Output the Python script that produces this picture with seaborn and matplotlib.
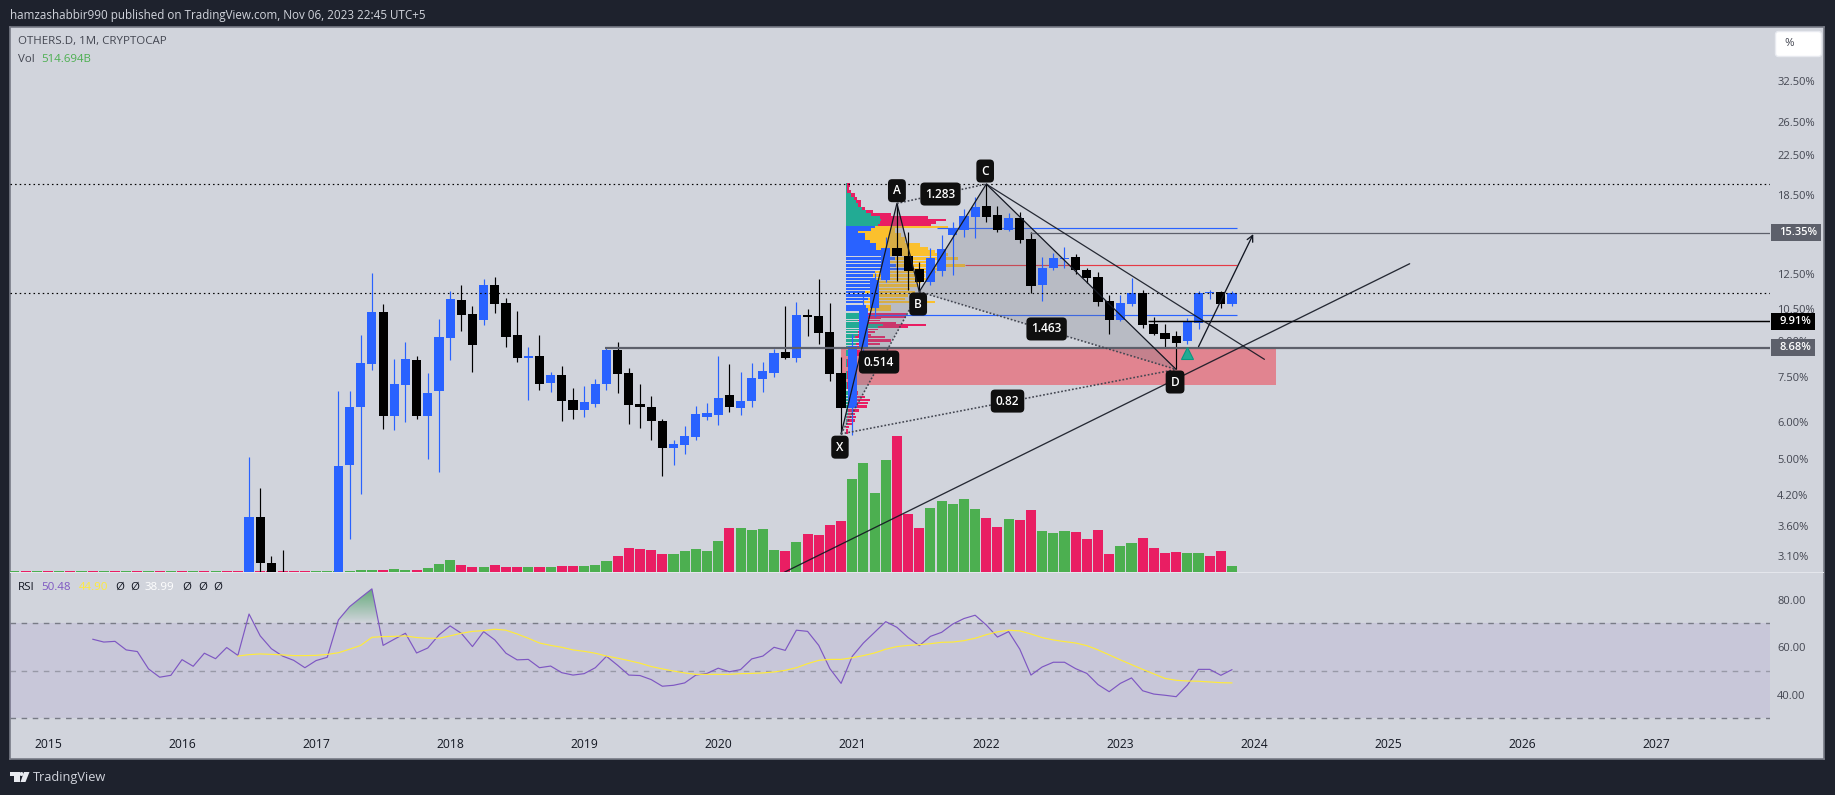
import numpy as np
import pandas as pd
import matplotlib
matplotlib.use("Agg")
import matplotlib.pyplot as plt
import seaborn as sns
from matplotlib.patches import Circle, FancyBboxPatch, Polygon, Rectangle
from matplotlib.transforms import IdentityTransform
from matplotlib.ticker import NullLocator

W, H = 1835, 795

# months counted from Jan 2015
months = [18, 19, 20, 21] + list(range(26, 107))
opens = [2.58,3.76,3.00,2.58,2.53,4.86,6.48,8.01,10.36,6.19,7.22,8.17,6.19,7.01,9.11,11.00,10.26,9.96,11.84,10.83,9.25,8.25,8.34,7.29,7.59,6.70,6.38,6.57,7.26,8.59,7.66,6.57,6.48,6.04,5.29,5.37,5.58,6.16,6.23,6.87,6.44,6.67,7.44,7.66,8.50,8.25,10.21,10.16,9.39,7.65,6.43,8.70,10.55,12.14,14.25,13.67,12.82,12.02,12.69,15.17,15.55,16.58,17.51,16.75,15.55,16.50,14.87,11.84,12.88,13.47,13.58,12.76,12.32,10.94,9.96,10.78,11.38,9.77,9.34,9.20,8.98,9.81,11.38,11.44,10.78]
highs = [5.05,4.33,3.10,3.19,7.00,7.00,9.23,12.57,10.78,8.21,8.93,8.34,7.66,10.01,11.50,11.84,10.68,12.20,12.32,11.11,10.41,8.72,9.25,7.70,7.93,7.11,7.19,7.44,8.67,8.93,7.86,7.26,6.84,6.10,5.50,5.90,6.51,6.61,8.34,8.01,7.70,8.05,8.09,8.63,10.68,10.89,10.52,12.20,10.83,8.31,9.28,11.37,12.55,15.04,17.74,15.42,13.29,14.20,15.17,16.15,17.22,18.28,19.52,17.51,16.89,17.00,15.42,13.58,13.85,14.27,13.81,12.88,12.61,11.27,11.27,12.26,11.55,10.09,9.77,9.43,10.06,11.50,11.55,11.50,11.50]
lows = [2.41,2.49,2.45,2.45,2.41,3.37,4.21,7.78,5.81,5.78,6.01,6.10,5.01,4.70,8.17,9.43,7.70,9.72,10.31,8.72,8.09,6.70,7.04,6.98,6.04,6.10,6.16,6.48,7.04,6.94,5.95,5.84,5.50,4.60,4.86,5.13,5.50,6.07,5.92,6.32,6.23,6.48,6.98,7.51,8.21,8.09,9.20,8.85,7.37,5.67,5.64,8.17,10.13,12.04,12.10,11.55,11.46,11.84,12.40,12.45,15.04,14.97,16.18,15.42,15.47,14.58,11.37,10.94,12.76,12.86,12.51,11.94,10.68,9.29,9.91,10.68,9.59,9.26,8.70,7.80,8.85,9.53,11.05,10.57,10.68]
closes = [3.76,3.00,2.53,2.53,4.84,6.48,8.05,10.36,6.19,7.26,8.21,6.19,6.94,9.16,11.05,10.21,8.80,11.84,10.78,9.16,8.25,8.34,7.26,7.59,6.67,6.38,6.64,7.26,8.59,7.63,6.54,6.48,6.04,5.29,5.39,5.61,6.26,6.29,6.77,6.48,6.67,7.48,7.74,8.46,8.25,10.21,10.11,9.34,7.63,6.43,8.76,10.55,12.14,14.25,13.67,12.69,12.04,13.56,14.15,15.63,16.66,17.42,16.58,15.55,16.50,14.80,11.79,12.88,13.54,13.54,12.76,12.26,10.89,9.96,10.83,11.37,9.72,9.29,9.07,8.89,9.90,11.37,11.44,10.78,11.37]

# volume in billions, months -3 to 106
volumes = [86]*31 + [172,172,172,257,172,172,343,686,1030,601,429,429,601,429,429,429,429,429,515,515,515,601,944,1373,2059,1973,1888,1544,1544,1802,1973,1802,2660,3775,3775,3604,3689,1888,1802,2574,3260,3175,4033,4376,7979,9352,6778,9610,11669,4976,3775,5491,6092,5834,6263,5405,4633,3861,4547,4462,5320,3518,3346,3518,3432,2831,3604,1544,2231,2488,2917,2059,1630,1716,1630,1630,1373,1802,514.694]
volume_side = list("gr" * 10) + list("rgrr" "rrrggggggr" "ggrgggrrgr" "rrgrgrrggg" "rrrrrggggg" "rggggrgrrr" "rggggrrrgg" "gggrrgrrgg" "grrrrggrrr" "rggrrg")

rsi_values = [63.3,62.1,62.4,58.8,58.1,50.8,47.3,48.1,54.7,51.9,57.4,55.1,59.8,56.5,73.9,64.7,59.3,56.2,54.4,51.3,54.3,55.7,71.4,77.0,80.8,84.5,60.7,63.3,65.8,57.5,59.6,65.1,68.9,65.8,60.2,66.5,63.0,57.4,54.6,54.8,51.3,52.0,49.2,48.2,48.8,51.3,56.1,52.3,48.2,48.0,46.3,43.5,43.9,44.9,48.2,48.9,51.1,49.6,50.5,55.0,56.2,59.9,58.6,67.1,66.6,60.7,50.9,44.7,56.1,61.7,66.2,70.7,68.3,64.0,60.6,64.5,66.2,69.7,72.0,73.4,69.3,64.2,66.5,59.1,48.2,51.6,53.6,53.6,50.9,48.9,44.2,41.2,44.7,47.0,41.6,40.2,39.7,39.1,44.0,50.6,50.6,48.1,50.48]
rsi_ma = [56.2,56.8,57.1,56.9,56.7,56.4,56.4,56.5,56.9,57.6,59.1,60.7,64.1,64.4,64.5,64.7,64.0,63.7,63.7,64.7,65.8,66.6,66.9,67.5,67.1,65.5,63.7,61.7,60.7,59.9,58.8,58.2,57.4,56.2,55.3,54.3,53.2,51.8,50.8,49.9,49.1,48.5,48.5,48.5,48.5,48.8,48.9,49.1,49.5,50.2,51.3,53.0,54.4,54.8,54.8,55.5,56.4,57.5,59.1,60.2,60.7,61.0,61.4,62.0,62.1,62.7,63.7,65.2,66.4,67.1,66.8,65.5,64.0,63.0,62.3,61.7,60.6,58.8,56.7,54.6,52.6,50.6,48.7,46.8,46.0,45.7,45.6,45.3,45.0,44.9]

# volume profile rows, volumes in arbitrary units
profile_price = [19.46,19.11,18.80,18.49,18.19,17.89,17.60,17.31,17.03,16.75,16.55,16.34,16.12,15.94,15.76,15.60,15.42,15.17,14.92,14.68,14.44,14.20,13.97,13.74,13.58,13.29,13.08,12.86,12.65,12.45,12.24,12.04,11.84,11.65,11.46,11.27,11.09,10.91,10.73,10.13,10.04,9.96,9.85,9.72,9.64,9.53,9.40,9.28,9.17,9.02,8.87,8.73,8.59,8.11,7.65,7.22,6.93,6.82,6.70,6.63,6.54,6.38,6.28,6.17,6.07,5.97,5.88,5.78,5.69]
profile_up = [1,1,1,5,8,10,12,16,20,25,34,35,34,32,29,25,12,19,19,24,30,30,35,35,49,42,50,59,29,27,29,32,25,25,19,24,22,17,20,22,15,12,22,37,32,15,12,12,9,13,10,10,2,1,1,1,2,5,2,2,2,2,2,1,1,1,0,0,0]
profile_down = [3,2,4,4,3,5,3,3,7,20,48,65,56,53,73,24,37,36,40,35,44,52,54,67,63,47,69,36,61,52,53,43,47,39,50,38,37,72,25,38,20,22,28,43,30,17,17,13,30,32,24,12,12,4,4,4,10,14,22,20,19,11,7,9,8,5,3,2,2]

# harmonic pattern X A B C D
pattern_x = [71, 76, 78, 84, 101]
pattern_y = [5.67, 17.74, 11.46, 19.52, 7.80]

year_labels = [str(y) for y in range(2015, 2028)]
price_ticks = [32.5, 26.5, 22.5, 18.5, 12.5, 10.5, 9.0, 7.5, 6.0, 5.0, 4.2, 3.6, 3.1]
rsi_ticks = [80, 60, 40]

BG = "#1e222d"
PANE = "#d1d4dc"
BLUE = "#2962ff"
INK = "#131722"
GREY = "#5d606b"

sns.set_style("white")
plt.rcParams["font.family"] = ["Open Sans", "DejaVu Sans"]

fig = plt.figure(figsize=(W / 100, H / 100), dpi=100, facecolor=BG)


def rect(x0, y0, x1, y1):
    return [x0 / W, 1 - y1 / H, (x1 - x0) / W, (y1 - y0) / H]


def label(x, y, s, **kw):
    kw.setdefault("fontsize", 8.25)
    kw.setdefault("color", "#434651")
    fig.text(x / W, 1 - y / H, s, va="center", ha="left", **kw)


frame = fig.add_axes(rect(10, 27, 1824, 759), zorder=-1, facecolor=PANE)
frame.set(xticks=[], yticks=[])
for s in frame.spines.values():
    s.set_color("#787b86")
    s.set_linewidth(1.2)

# volume sits under the candles
vol_ax = fig.add_axes(rect(10, 27, 1770, 572), facecolor="none")
vol = pd.DataFrame({"month": range(107 - len(volumes), 107), "volume": volumes, "side": volume_side})
sns.barplot(data=vol, x="month", y="volume", hue="side", palette={"g": "#4caf50", "r": "#e91e63"},
            native_scale=True, dodge=False, width=0.9, saturation=1, linewidth=0, legend=False, ax=vol_ax)
vol_ax.set(xlabel="", ylabel="", xticks=[], yticks=[], ylim=(0, 46761))
sns.despine(ax=vol_ax, left=True, bottom=True)

ax = vol_ax.twinx()
ax.set_yscale("log")
ax.set_ylim(2.863, 42.46)
ax.set_xlim(-3.40, 154.16)
ax.set_yticks(price_ticks, [f"{v:.2f}%" for v in price_ticks])
ax.yaxis.set_minor_locator(NullLocator())
ax.tick_params(axis="y", length=0, pad=5.2, labelsize=8.0, labelcolor="#434651")
sns.despine(ax=ax, left=True, bottom=True, right=True)

# zone and volume profile
ax.add_patch(Rectangle((71.0, 7.22), 38.9, 8.68 - 7.22, color="#f23645", alpha=0.5, lw=0, zorder=1))

price = np.array(profile_price)
edges = np.sqrt(price[:-1] * price[1:])
row_top = np.r_[price[0] * 1.006, edges]
row_low = np.r_[edges, price[-1] * 0.994]
row_hgt = (row_top - row_low) * np.where(price < 13.7, 0.72, 1.0)
up = np.array(profile_up) / 11.17
down = np.array(profile_down) / 11.17
in_value_area = (price < 15.8) & (price > 10.2)
anchor = 71.44
ax.barh(row_low, up, height=row_hgt, left=anchor, align="edge", zorder=2, lw=0,
        color=np.where(in_value_area, BLUE, "#22ab94"))
ax.barh(row_low, down, height=row_hgt, left=anchor + up, align="edge", zorder=2, lw=0,
        color=np.where(in_value_area, "#fbc02d", "#e91e63"))

# harmonic pattern triangles
ax.fill(pattern_x[:3], pattern_y[:3], color="#787b86", alpha=0.27, lw=0, zorder=3)
ax.fill(pattern_x[2:], pattern_y[2:], color="#787b86", alpha=0.27, lw=0, zorder=3)

# candles
candle_colors = [BLUE if c >= o else "black" for o, c in zip(opens, closes)]
ax.vlines(months, lows, highs, colors=candle_colors, linewidth=0.85, zorder=4)
ax.bar(months, np.abs(np.array(closes) - np.array(opens)), bottom=np.minimum(opens, closes),
       width=0.82, color=candle_colors, lw=0, zorder=5)

dots = (0, (1.3, 2.6))
ax.hlines([19.52, 11.37], -3.4, 154.2, colors="black", linewidth=0.85, linestyles=[dots], zorder=6)
ax.hlines(15.35, 87.9, 154.2, colors=GREY, linewidth=0.9, zorder=6)
ax.hlines(9.91, 98.5, 154.2, colors="black", linewidth=1.05, zorder=6)
ax.hlines(8.68, 49.9, 154.2, colors=GREY, linewidth=1.6, zorder=6)
ax.hlines(15.73, 79.6, 106.4, colors=BLUE, linewidth=0.85, zorder=2.5)
ax.hlines(10.20, 72.7, 106.4, colors=BLUE, linewidth=0.85, zorder=2.5)
ax.hlines(13.06, 82.1, 106.4, colors="#e53945", linewidth=0.85, zorder=2.5)

ax.plot(pattern_x, pattern_y, color=INK, lw=0.9, zorder=6)
for a, b in ((0, 2), (1, 3), (2, 4), (0, 4)):
    ax.plot([pattern_x[a], pattern_x[b]], [pattern_y[a], pattern_y[b]], color="#434651", lw=1.15,
            linestyle=(0, (1.1, 1.2)), zorder=6)

ax.plot([65.93, 121.9], [2.86, 13.16], color=INK, lw=0.95, alpha=0.9, zorder=6)
ax.plot([84, 108.9], [19.52, 8.20], color=INK, lw=0.9, alpha=0.9, zorder=6)
ax.annotate("", xy=(107.9, 15.24), xytext=(103.0, 8.73), zorder=6,
            arrowprops=dict(arrowstyle="->", color=INK, lw=0.95, mutation_scale=11, shrinkA=0, shrinkB=0))
ax.plot([102], [8.47], marker="^", ms=8, mfc="#22ab94", mec="#089981", mew=0.8, zorder=6)

for name, mx, val in (("A", 76, 18.89), ("B", 77.9, 10.78), ("C", 83.9, 20.82), ("D", 100.9, 7.33), ("X", 70.9, 5.31),
                      ("1.283", 79.9, 18.58), ("0.514", 74.4, 8.09), ("1.463", 89.4, 9.53), ("0.82", 85.9, 6.67)):
    ax.text(mx, val, name, color="white", fontsize=8.6, fontweight="semibold", ha="center", va="center", zorder=8,
            bbox=dict(boxstyle="round,pad=0.42,rounding_size=0.35", fc="#0f0f0f", ec="none"))

# price scale badges
fig.canvas.draw()
for level, text, color, x1 in ((15.35, "15.35%", GREY, 1821), (9.91, "9.91%", "black", 1815), (8.68, "8.68%", GREY, 1815)):
    y = H - ax.transData.transform((0, level))[1]
    fig.add_artist(Rectangle((1771, H - y - 8.5), x1 - 1771, 17, color=color, lw=0, transform=IdentityTransform()))
    label(1779, y, text, color="white", fontsize=8.0, fontweight="semibold", zorder=5)

# RSI pane
rsi_ax = fig.add_axes(rect(10, 573, 1770, 759), facecolor="none")
rsi_m = np.arange(107 - len(rsi_values), 107)
ma_m = np.arange(107 - len(rsi_ma), 107)
rsi_ax.axhspan(30, 70, color="#7e57c2", alpha=0.1, lw=0)
rsi_ax.axhline(70, color="#787b86", lw=1, linestyle=(0, (4, 4)))
rsi_ax.axhline(50, color="#787b86", lw=1, alpha=0.6, linestyle=(0, (4, 4)))
rsi_ax.axhline(30, color="#787b86", lw=1, linestyle=(0, (4, 4)))

rsi_arr = np.array(rsi_values)
over = rsi_m[(rsi_m >= 26) & (rsi_m <= 29)]
poly = [(25.9, 70)] + list(zip(over, rsi_arr[np.isin(rsi_m, over)])) + [(29.62, 70)]
grad = np.zeros((64, 2, 4))
grad[..., :3] = matplotlib.colors.to_rgb("#3f9c58")
grad[..., 3] = np.linspace(0.75, 0, 64)[:, None]
im = rsi_ax.imshow(grad, extent=(25.9, 29.62, 70, 84.5), aspect="auto", zorder=1.5)
im.set_clip_path(Polygon(poly, transform=rsi_ax.transData))

sns.lineplot(x=rsi_m, y=rsi_values, color="#7e57c2", linewidth=0.85, errorbar=None, ax=rsi_ax, zorder=3)
sns.lineplot(x=ma_m, y=rsi_ma, color="#ffeb3b", linewidth=0.85, errorbar=None, ax=rsi_ax, zorder=3)
rsi_ax.set_xlim(-3.40, 154.16)
rsi_ax.set_ylim(12.86, 91.18)
rsi_ax.set_xticks(range(0, 156, 12), year_labels)
rsi_ax.yaxis.tick_right()
rsi_ax.set_yticks(rsi_ticks, [f"{v:.2f}" for v in rsi_ticks])
rsi_ax.tick_params(axis="y", length=0, pad=5.2, labelsize=8.0, labelcolor="#434651")
rsi_ax.tick_params(axis="x", length=0, pad=-15, labelsize=8.7, labelcolor="#131722")
sns.despine(ax=rsi_ax, left=True, bottom=True, right=True)

fig.add_artist(Rectangle((10, H - 573), 1814, 1.2, color="#e4e6ec", lw=0, transform=IdentityTransform()))

# header and legends
label(10, 15, "hamzashabbir990 published on TradingView.com, Nov 06, 2023 22:45 UTC+5", color="#d1d4dc", fontsize=8.4)
label(18, 41.5, "OTHERS.D, 1M, CRYPTOCAP")
label(18, 59, "Vol")
label(41.5, 59, "514.694B", color="#4caf50")
label(18, 587.7, "RSI", color=INK)
label(41.5, 587.7, "50.48", color="#7e57c2")
label(78.6, 587.7, "44.90", color="#ffeb3b")
for x in (115, 130, 182.6, 198, 213):
    label(x, 587.7, "Ø", color=INK)
label(145, 587.7, "38.99", color="white")

# percent button
fig.add_artist(FancyBboxPatch((1777, H - 55), 43, 22, boxstyle="round,pad=1.5,rounding_size=3",
                              fc="white", ec="#e8eaf0", lw=1, transform=IdentityTransform()))
label(1784, 44, "%", zorder=5)

# logo
logo = [Rectangle((10, H - 776), 9.5, 4, color="#e8eaf0", lw=0), Rectangle((14, H - 782), 5.5, 10, color="#e8eaf0", lw=0),
        Circle((21.5, H - 774), 2, color="#e8eaf0", lw=0),
        Polygon([(24, H - 772), (29.5, H - 772), (25.5, H - 782), (20.5, H - 782)], color="#e8eaf0", lw=0)]
for p in logo:
    p.set_transform(IdentityTransform())
    fig.add_artist(p)
label(33, 777, "TradingView", color="#d1d4dc", fontsize=9.2)

fig.savefig("out.png", dpi=100, facecolor=BG)
